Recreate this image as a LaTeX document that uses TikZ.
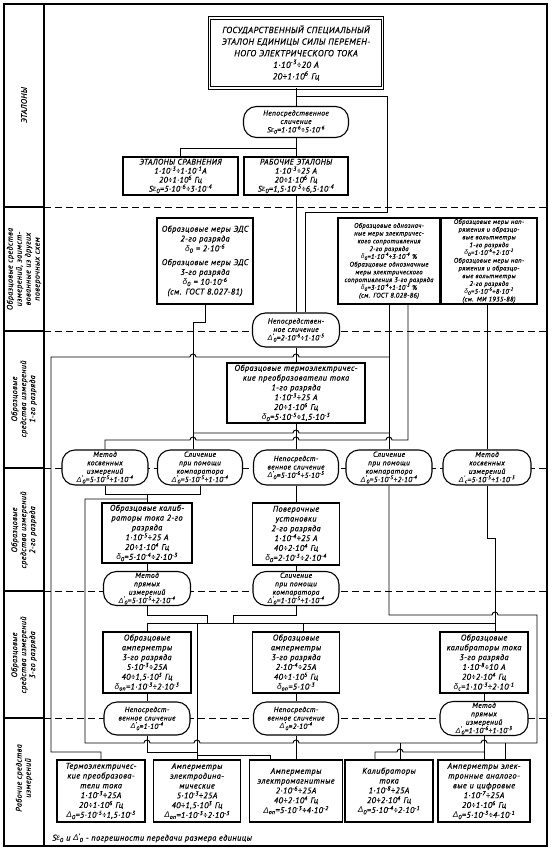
\documentclass[tikz,border=0pt]{standalone}
\usepackage{fontspec}
\setmainfont{PT Sans}[LetterSpace=5, ItalicFeatures={FakeBold=0.5}]
\newfontfamily\grk{Liberation Sans}
\newcommand\ep[1]{\textsuperscript{#1}}
\newcommand\Dp[1]{{\grk Δ}\textsuperscript{'}\kern-0.5pt\textsubscript{#1}}
\newcommand\Dl[1]{{\grk Δ}\textsubscript{#1}}
\newcommand\dl[1]{{\grk δ}\textsubscript{#1}}
\newcommand\Se{S{\grk ε}\textsubscript{0}}
\newcommand\fntA{\itshape\fontsize{8.3}{9.8}\selectfont}
\newcommand\fntB{\itshape\fontsize{8}{9}\selectfont}
\newcommand\fntS{\itshape\fontsize{7.4}{8.4}\selectfont}
\newcommand\fntT{\itshape\fontsize{6.6}{7.75}\selectfont}
\newcommand\fntG{\itshape\fontsize{8.8}{11.6}\selectfont}
\newcommand\fntL{\itshape\fontsize{8}{9}\selectfont}
\tikzset{
  ln/.style={line width=0.9pt},
  dsh/.style={line width=0.9pt, dash pattern=on 7pt off 4pt},
  bx/.style 2 args={draw, line width=1.1pt, fill=white, text width=#1pt, minimum height=#2pt,
    inner xsep=2pt, inner ysep=1pt, align=center, font=\fntA},
  stad/.style 2 args={draw, line width=1.1pt, fill=white, rounded corners=13pt, text width=#1pt,
    minimum height=#2pt, inner xsep=2pt, inner ysep=0pt, align=center, font=\fntS},
  lab/.style={rotate=90, align=center, font=\fntL}
}
\begin{document}
\begin{tikzpicture}[x=1pt,y=-1pt]
\useasboundingbox (0,0) rectangle (554,853);
% frame
\draw[line width=1.3pt] (4,4) rectangle (547,846);
\draw[line width=1.1pt] (44,4) -- (44,846);
\foreach \yy in {207,331,468,591,718} {
  \draw[line width=1.1pt] (4,\yy) -- (44,\yy);
  \draw[dsh] (44,\yy) -- (547,\yy);
}
% side labels
\node[lab] (l1) at (24,105) {ЭТАЛОНЫ};
\node[lab] (l2) at (24,269) {Образцовые средства\\измерений, заимст-\\вованные из других\\поверочных схем};
\node[lab] (l3) at (24,399) {Образцовые\\средства измерений\\1-го разряда};
\node[lab] (l4) at (24,530) {Образцовые\\средства измерений\\2-го разряда};
\node[lab] (l5) at (24,655) {Образцовые\\средства измерений\\3-го разряда};
\node[lab] (l6) at (24,778) {Рабочие средства\\измерений};

% junction coordinates
\coordinate (j0) at (296,96);
\coordinate (j1) at (296,148);
\coordinate (k2) at (147,494);

% nodes
\node[draw, double, double distance=1.6pt, line width=1pt, fill=white, text width=169pt,
  minimum height=70pt, inner xsep=2pt, align=center, font=\fntG] (gos) at (296,53)
  {ГОСУДАРСТВЕННЫЙ СПЕЦИАЛЬНЫЙ\\ЭТАЛОН ЕДИНИЦЫ СИЛЫ ПЕРЕМЕН-\\НОГО ЭЛЕКТРИЧЕСКОГО ТОКА\\1·10\ep{-3}÷20 A\\20÷1·10\ep{6} Гц};
\node[stad={101}{31}] (st0) at (296,122) {Непосредственное\\сличение\\\Se=1·10\ep{-6}÷5·10\ep{-6}};
\node[bx={111}{38}, font=\fntB] (etsr) at (180.5,176) {ЭТАЛОНЫ СРАВНЕНИЯ\\1·10\ep{-3}÷1·10\ep{-1}A\\20÷1·10\ep{6} Гц\\\Se=5·10\ep{-6}÷3·10\ep{-4}};
\node[bx={100}{38}, font=\fntB] (rab) at (296,176) {РАБОЧИЕ ЭТАЛОНЫ\\1·10\ep{-3}÷25 A\\20÷1·10\ep{6} Гц\\\Se=1,5·10\ep{-5}÷6,5·10\ep{-4}};
\node[bx={92}{86}] (eds) at (205,261) {Образцовые меры ЭДС\\2-го разряда\\\dl{0} = 2·10\ep{-6}\\[4pt]Образцовые меры ЭДС\\3-го разряда\\\dl{0} = 10·10\ep{-6}\\(см. ГОСТ 8.027-81)};
\node[bx={98}{86}, font=\fntT] (odn) at (389,261) {Образцовые однознач-\\ные меры электричес-\\кого сопротивления\\2-го разряда\\\dl{0}=1·10\ep{-4}÷3·10\ep{-4} \%\\Образцовые однозначные\\меры электрического\\сопротивления 3-го разряда\\\dl{0}=3·10\ep{-4}÷1·10\ep{-3} \%\\(см. ГОСТ 8.028-86)};
\node[bx={92}{86}, font=\fntT] (napr) at (489,261) {Образцовые меры нап-\\ряжения и образцо-\\вые вольтметры\\1-го разряда\\\dl{0}=1·10\ep{-6}÷2·10\ep{-2}\\Образцовые меры нап-\\ряжения и образцо-\\вые вольтметры\\2-го разряда\\\dl{0}=5·10\ep{-6}÷8·10\ep{-2}\\(см. МИ 1935-88)};
\node[stad={83}{34}] (st1) at (296,330) {Непосредствен-\\ное сличение\\\Dp{0}=2·10\ep{-6}÷1·10\ep{-5}};
\node[bx={134}{60}] (termo1) at (296,393) {Образцовые термоэлектричес-\\кие преобразователи тока\\1-го разряда\\1·10\ep{-3}÷25 A\\20÷1·10\ep{6} Гц\\\dl{0}=5·10\ep{-5}÷1,5·10\ep{-3}};
\node[stad={82}{35}] (s21) at (105,467.5) {Метод\\косвенных\\измерений\\\Dp{0}=5·10\ep{-5}÷1·10\ep{-4}};
\node[stad={81}{35}] (s22) at (200,467.5) {Сличение\\при помощи\\компаратора\\\Dp{0}=5·10\ep{-5}÷1·10\ep{-4}};
\node[stad={81}{35}] (s23) at (296,467.5) {Непосредст-\\венное сличение\\\Dp{0}=5·10\ep{-6}÷5·10\ep{-5}};
\node[stad={82}{35}] (s24) at (389,467.5) {Сличение\\при помощи\\компаратора\\\Dp{0}=5·10\ep{-5}÷2·10\ep{-4}};
\node[stad={84}{35}] (s25) at (487,467.5) {Метод\\косвенных\\измерений\\\Dp{c}=5·10\ep{-5}÷1·10\ep{-3}};
\node[bx={86}{60}] (kal2) at (147,533) {Образцовые калиб-\\раторы тока 2-го\\разряда\\1·10\ep{-5}÷25 A\\20÷1·10\ep{4} Гц\\\dl{0}=5·10\ep{-4}÷2·10\ep{-3}};
\node[bx={83}{62}] (ust2) at (296,534) {Поверочные\\установки\\2-го разряда\\1·10\ep{-4}÷25 A\\40÷2·10\ep{4} Гц\\\dl{0}=2·10\ep{-3}÷2·10\ep{-4}};
\node[stad={83}{34}] (mpr2) at (147,588.5) {Метод\\прямых\\измерений\\\Dp{0}=5·10\ep{-5}÷2·10\ep{-4}};
\node[stad={82}{34}] (sl3) at (296,588.5) {Сличение\\при помощи\\компаратора\\\Dp{0}=1·10\ep{-5}÷1·10\ep{-4}};
\node[bx={84}{61}] (a31) at (147,662.5) {Образцовые\\амперметры\\3-го разряда\\5·10\ep{-3}÷25A\\40÷1,5·10\ep{3} Гц\\\dl{оп}=1·10\ep{-3}÷2·10\ep{-3}};
\node[bx={83}{61}] (a32) at (296,662.5) {Образцовые\\амперметры\\3-го разряда\\2·10\ep{-4}÷25A\\40÷1·10\ep{5} Гц\\\dl{оп}=5·10\ep{-3}};
\node[bx={84}{61}] (kal3) at (484,662.5) {Образцовые\\калибраторы тока\\3-го разряда\\1·10\ep{-8}÷10 A\\20÷2·10\ep{4} Гц\\\dl{c}=1·10\ep{-3}÷2·10\ep{-1}};
\node[stad={82}{33}] (n31) at (147,718.5) {Непосредст-\\венное сличение\\\Dp{0}=1·10\ep{-4}};
\node[stad={81}{33}] (n32) at (296,718.5) {Непосредст-\\венное сличение\\\Dp{0}=2·10\ep{-4}};
\node[stad={84}{34}] (m33) at (484,718.5) {Метод\\прямых\\измерений\\\Dp{0}=1·10\ep{-6}÷1·10\ep{-3}};
\node[bx={84}{62}] (b1) at (101,791) {Термоэлектричес-\\кие преобразова-\\тели тока\\1·10\ep{-3}÷25A\\20÷1·10\ep{6} Гц\\\Dl{0}=5·10\ep{-5}÷1,5·10\ep{-3}};
\node[bx={83}{62}] (b2) at (197,791) {Амперметры\\электродина-\\мические\\5·10\ep{-3}÷25A\\40÷1,5·10\ep{3} Гц\\\Dl{оп}=1·10\ep{-3}÷2·10\ep{-3}};
\node[bx={89}{62}] (b3) at (296,791) {Амперметры\\электромагнитные\\2·10\ep{-6}÷25A\\40÷2·10\ep{4} Гц\\\Dl{оп}=5·10\ep{-3}÷4·10\ep{-2}};
\node[bx={84}{62}] (b4) at (389,791) {Калибраторы\\тока\\1·10\ep{-8}÷25A\\20÷2·10\ep{4} Гц\\\Dl{0}=5·10\ep{-4}÷2·10\ep{-1}};
\node[bx={88}{62}] (b5) at (484,791) {Амперметры элек-\\тронные аналого-\\вые и цифровые\\1·10\ep{-7}÷25A\\20÷1·10\ep{6} Гц\\\Dl{0}=5·10\ep{-3}÷4·10\ep{-1}};
\node[anchor=west, font=\fntA, inner sep=0pt] (fn) at (52,838) {\Se\ и \Dp{0} - погрешности передачи размера единицы};

% connectors, band 1
\draw[ln] (gos.south) -- (st0.north);
\draw[ln] (j0) -- (387,96) -- (387,212) -- (305,212) -- ([xshift=9pt]st1.north);
\draw[ln] (st0.south) -- (rab.north);
\draw[ln] (j1) -| (etsr.north);
\draw[ln] (rab.south) -- (st1.north);
% band 2 (borrowed)
\draw[ln] (eds.south) -- (205,322) -- (193,322) -- ([xshift=-7pt]s22.north);
\draw[ln] (odn.south) -- (s24.north);
\draw[ln] ([xshift=19pt]odn.south) -- (408,440) -- (392,440)
  arc[start angle=0,end angle=-180,radius=3] -- (299,440)
  arc[start angle=0,end angle=-180,radius=3] -- (196,440)
  arc[start angle=0,end angle=-180,radius=3] -- (105,440) -- (s21.north);
\draw[ln] (389,357) -- (299,357)
  arc[start angle=0,end angle=-180,radius=3] -- (196,357)
  arc[start angle=0,end angle=-180,radius=3] -- (51,357) -- (51,752) -- (101,752) -- (b1.north);
\draw[ln] (193,433) -- (293,433) arc[start angle=180,end angle=360,radius=3] -- (389,433);
\draw[ln] ([xshift=-2pt]napr.south) -- (s25.north);
\draw[ln] (st1.south) -- (termo1.north);
\draw[ln] (termo1.south) -- (s23.north);
% band 2 lower
\draw[ln] (s21.south) |- (k2) -- (kal2.north);
\draw[ln] (s22.south) |- (k2);
\draw[ln] (s23.south) -- (ust2.north);
\draw[ln] (kal2.south) -- (mpr2.north);
\draw[ln] (ust2.south) -- (sl3.north);
\draw[ln] (147,499) -- (85,499) -- (85,743) -- (144,743)
  arc[start angle=180,end angle=360,radius=3] -- (194,743)
  arc[start angle=180,end angle=360,radius=3] -- (293,743)
  arc[start angle=180,end angle=360,radius=3] -- (481,743)
  arc[start angle=180,end angle=360,radius=3] -- (537,743) -- (537,615) -- (498,615)
  arc[start angle=0,end angle=-180,radius=3] -- (389,615) -- (s24.south);
% band 3
\draw[ln] (mpr2.south) -- (147,615) -- (207,615) -- (207,623);
\draw[ln] (sl3.south) -- (296,615) -- (233,615) -- (233,623);
\draw[ln] (a31.north) -- (147,623) -- (495,623);
\draw[ln] (303,623) -- ([xshift=7pt]a32.north);
\draw[ln] (s25.south) -- (487,538) -- (495,538) -- ([xshift=11pt]kal3.north);
\draw[ln] (a31.south) -- (n31.north);
\draw[ln] (a32.south) -- (n32.north);
\draw[ln] (kal3.south) -- (m33.north);
% bottom
\draw[ln] (197,623) -- (b2.north);
\draw[ln] (n31.south) -- (147,752) -- (197,752);
\draw[ln] (197,755) -- (270,755) -- ([xshift=-26pt]b3.north);
\draw[ln] (n32.south) -- (b3.north);
\draw[ln] (m33.south) -- (b5.north);
\draw[ln] (484,752) -- (403,752) arc[start angle=0,end angle=-180,radius=3] -- (375,752) -- ([xshift=-14pt]b4.north);
\draw[ln] (400,743) -- ([xshift=11pt]b4.north);
\draw[ln] (505,743) -- ([xshift=21pt]b5.north);
\end{tikzpicture}
\end{document}
